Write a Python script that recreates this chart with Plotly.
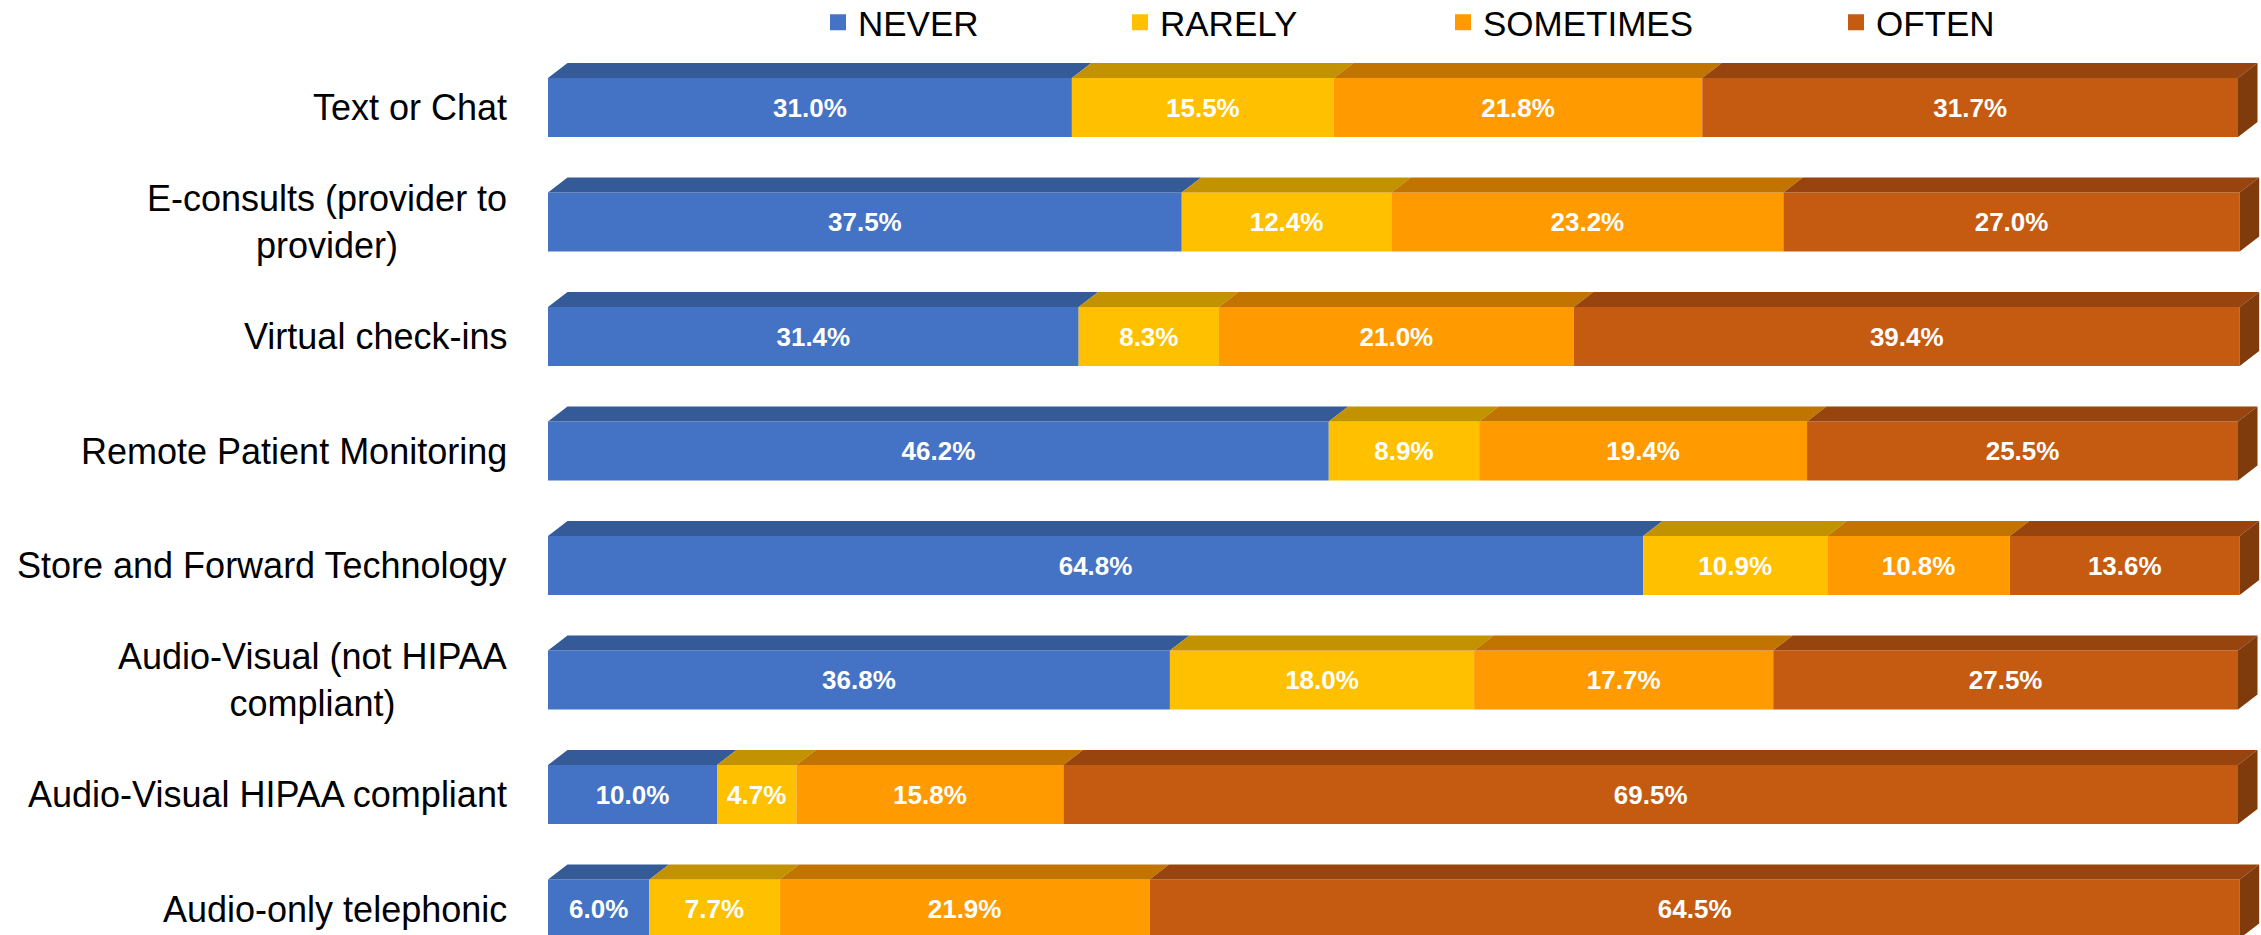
import plotly.graph_objects as go

categories = [
    "Text or Chat",
    "E-consults (provider to<br>provider)",
    "Virtual check-ins",
    "Remote Patient Monitoring",
    "Store and Forward Technology",
    "Audio-Visual (not HIPAA<br>compliant)",
    "Audio-Visual HIPAA compliant",
    "Audio-only telephonic",
]
series_names = ["NEVER", "RARELY", "SOMETIMES", "OFTEN"]
never = [31.0, 37.5, 31.4, 46.2, 64.8, 36.8, 10.0, 6.0]
rarely = [15.5, 12.4, 8.3, 8.9, 10.9, 18.0, 4.7, 7.7]
sometimes = [21.8, 23.2, 21.0, 19.4, 10.8, 17.7, 15.8, 21.9]
often = [31.7, 27.0, 39.4, 25.5, 13.6, 27.5, 69.5, 64.5]

series_values = [never, rarely, sometimes, often]
front_colors = ["#4472C4", "#FFC000", "#FF9A00", "#C55A11"]
top_colors = ["#355A98", "#C29200", "#C27400", "#97440F"]
side_color = "#7F3B0C"

FONT = "Liberation Sans, Arial, sans-serif"
W, H = 2261, 935
L = 548
PX_PER_PCT = 16.9
ROW0_PX, ROW_PX = 107.5, 114.5
BAR_W = 0.515
DX = 19.5 / PX_PER_PCT       # depth offset in % units
DY = 15.0 / ROW_PX           # depth offset in category units

ys = list(range(len(categories)))
x_max = (W - L) / PX_PER_PCT
y_top = -ROW0_PX / ROW_PX
y_bot = (H - ROW0_PX) / ROW_PX

fig = go.Figure()
legend_ids = ["legend", "legend2", "legend3", "legend4"]

bases = [0.0] * len(categories)
top_polys = []
for k, (name, vals) in enumerate(zip(series_names, series_values)):
    fig.add_trace(go.Bar(
        y=ys, x=vals, base=list(bases), orientation="h", name=name,
        width=BAR_W, marker=dict(color=front_colors[k], line=dict(width=0)),
        text=[f"{v:.1f}%" for v in vals], textposition="inside",
        insidetextanchor="middle", textangle=0, constraintext="none",
        textfont=dict(family=FONT, size=26, color="white", weight="bold"),
        showlegend=False, hoverinfo="skip",
    ))
    px, py = [], []
    for i, v in enumerate(vals):
        x0, x1 = bases[i], bases[i] + v
        yt = i - BAR_W / 2
        px += [x0, x1, x1 + DX, x0 + DX, x0, None]
        py += [yt, yt, yt - DY, yt - DY, yt, None]
    top_polys.append((px, py, top_colors[k]))
    bases = [b + v for b, v in zip(bases, vals)]

for px, py, col in top_polys:
    fig.add_trace(go.Scatter(x=px, y=py, fill="toself", mode="none",
                             fillcolor=col, showlegend=False, hoverinfo="skip"))

sx, sy = [], []
for i, b in enumerate(bases):
    yt = i - BAR_W / 2
    yb = i + BAR_W / 2
    sx += [b, b + DX, b + DX, b, b, None]
    sy += [yt, yt - DY, yb - DY, yb, yt, None]
fig.add_trace(go.Scatter(x=sx, y=sy, fill="toself", mode="none",
                         fillcolor=side_color, showlegend=False, hoverinfo="skip"))

# legend entries (square swatches)
for k, name in enumerate(series_names):
    fig.add_trace(go.Scatter(
        x=[None], y=[None], mode="markers", name=name,
        marker=dict(symbol="square", size=16, color=front_colors[k]),
        legend=legend_ids[k], hoverinfo="skip",
    ))

for i, cat in enumerate(categories):
    fig.add_annotation(x=0, y=i, xref="x", yref="y", text=cat, showarrow=False,
                       xanchor="right", yanchor="middle", xshift=-39, align="center",
                       font=dict(family=FONT, size=36, color="black"))

plot_w = W - L
legend_px = [818, 1120, 1443, 1836]
layout_legends = {}
for lid, lx in zip(legend_ids, legend_px):
    layout_legends[lid] = dict(
        x=(lx - L) / plot_w, xanchor="left", y=1.0 + 7 / H, yanchor="top",
        orientation="h", bgcolor="rgba(0,0,0,0)", borderwidth=0,
        font=dict(family=FONT, size=35, color="black"),
    )

fig.update_layout(
    width=W, height=H, barmode="overlay",
    margin=dict(l=L, r=0, t=0, b=0, autoexpand=False),
    paper_bgcolor="white", plot_bgcolor="white",
    xaxis=dict(range=[0, x_max], visible=False, fixedrange=True),
    yaxis=dict(range=[y_bot, y_top], visible=False, fixedrange=True),
    font=dict(family=FONT),
    **layout_legends,
)

fig.write_html("out.html")
